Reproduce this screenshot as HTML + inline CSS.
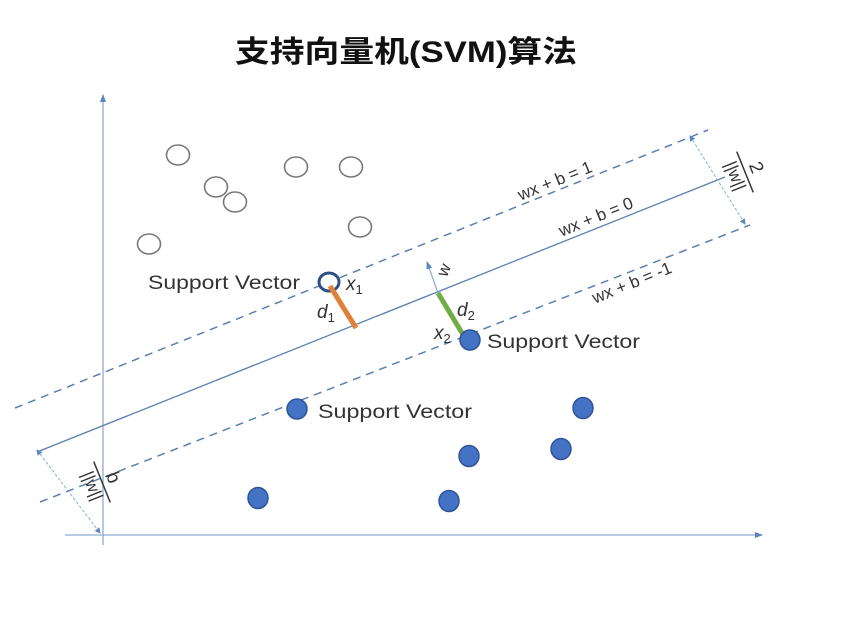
<!DOCTYPE html>
<html><head><meta charset="utf-8"><style>
body{margin:0;background:#fff;width:852px;height:627px;overflow:hidden}
svg text{font-family:"Liberation Sans","Noto Sans CJK SC",sans-serif}
</style></head><body>
<svg width="852" height="627" viewBox="0 0 852 627" xmlns="http://www.w3.org/2000/svg">
<defs>
<marker id="a" markerWidth="8" markerHeight="8" refX="7" refY="4" orient="auto" markerUnits="userSpaceOnUse"><path d="M0,1 L8,4 L0,7z" fill="#5b87c0"/></marker>
<marker id="s" markerWidth="6" markerHeight="6" refX="5" refY="3" orient="auto-start-reverse" markerUnits="userSpaceOnUse"><path d="M0,0 L6,3 L0,6z" fill="#5b87c0"/></marker>
</defs>
<text x="406" y="62" font-size="30" font-weight="bold" text-anchor="middle" fill="#111" textLength="342" lengthAdjust="spacingAndGlyphs">支持向量机(SVM)算法</text>
<!-- axes -->
<line x1="103" y1="545" x2="103" y2="95" stroke="#8eaad3" stroke-width="1.3" marker-end="url(#a)"/>
<line x1="65" y1="535" x2="762" y2="535" stroke="#8eaad3" stroke-width="1.3" marker-end="url(#a)"/>
<!-- lines -->
<line x1="15" y1="408" x2="708" y2="130" stroke="#5b7fb0" stroke-width="1.5" stroke-dasharray="8,6"/>
<line x1="37" y1="452" x2="725" y2="177" stroke="#5b7fb0" stroke-width="1.3"/>
<line x1="40" y1="502" x2="750" y2="225" stroke="#5b7fb0" stroke-width="1.5" stroke-dasharray="8,6"/>
<!-- dimension lines -->
<line x1="690" y1="136" x2="745" y2="224" stroke="#8eaad3" stroke-width="1" stroke-dasharray="3,2" marker-start="url(#s)" marker-end="url(#s)"/>
<line x1="37" y1="450" x2="100" y2="533" stroke="#8eaad3" stroke-width="1" stroke-dasharray="3,2" marker-start="url(#s)" marker-end="url(#s)"/>
<!-- labels on lines -->
<g font-size="17" fill="#333">
<text transform="translate(557,186) rotate(-22)" text-anchor="middle">wx + b = 1</text>
<text transform="translate(598,222) rotate(-22)" text-anchor="middle">wx + b = 0</text>
<text transform="translate(634,288) rotate(-22)" text-anchor="middle">wx + b = -1</text>
</g>
<!-- fractions -->
<g transform="translate(745,172) rotate(68)" fill="#333">
<text x="0" y="-6" font-size="19" text-anchor="middle">2</text>
<line x1="-22" y1="0" x2="22" y2="0" stroke="#333" stroke-width="1.5"/>
<text x="0" y="16" font-size="17" text-anchor="middle">||w||</text>
</g>
<g transform="translate(102,482) rotate(68)" fill="#333">
<text x="0" y="-6" font-size="19" text-anchor="middle">b</text>
<line x1="-22" y1="0" x2="22" y2="0" stroke="#333" stroke-width="1.5"/>
<text x="0" y="16" font-size="17" text-anchor="middle">||w||</text>
</g>
<!-- open circles -->
<g fill="#fff" stroke="#777" stroke-width="1.6">
<ellipse cx="178" cy="155" rx="11.5" ry="10"/>
<ellipse cx="216" cy="187" rx="11.5" ry="10"/>
<ellipse cx="235" cy="202" rx="11.5" ry="10"/>
<ellipse cx="296" cy="167" rx="11.5" ry="10"/>
<ellipse cx="351" cy="167" rx="11.5" ry="10"/>
<ellipse cx="360" cy="227" rx="11.5" ry="10"/>
<ellipse cx="149" cy="244" rx="11.5" ry="10"/>
</g>
<ellipse cx="329" cy="282" rx="10" ry="9" fill="#fff" stroke="#2d4f86" stroke-width="3"/>
<!-- segments -->
<line x1="330" y1="286" x2="356" y2="328" stroke="#e0803a" stroke-width="5"/>
<line x1="438" y1="293" x2="465" y2="338" stroke="#6fae45" stroke-width="5"/>
<line x1="438" y1="293" x2="427" y2="262" stroke="#8eaad3" stroke-width="1.2" marker-end="url(#a)"/>
<!-- filled circles -->
<g fill="#4472c4" stroke="#2f5597" stroke-width="1.5">
<ellipse cx="470" cy="340" rx="10" ry="10"/>
<ellipse cx="297" cy="409" rx="10" ry="10"/>
<ellipse cx="583" cy="408" rx="10" ry="10.5"/>
<ellipse cx="561" cy="449" rx="10" ry="10.5"/>
<ellipse cx="469" cy="456" rx="10" ry="10.5"/>
<ellipse cx="258" cy="498" rx="10" ry="10.5"/>
<ellipse cx="449" cy="501" rx="10" ry="10.5"/>
</g>
<!-- texts -->
<g font-size="19" fill="#333">
<text x="148" y="289" textLength="152" lengthAdjust="spacingAndGlyphs">Support Vector</text>
<text x="487" y="348" textLength="153" lengthAdjust="spacingAndGlyphs">Support Vector</text>
<text x="318" y="418" textLength="154" lengthAdjust="spacingAndGlyphs">Support Vector</text>
</g>
<g font-family="'Liberation Serif',serif" font-style="italic" fill="#333">
<text x="346" y="290" font-size="19">x<tspan font-size="13" dy="4" font-style="normal">1</tspan></text>
<text x="317" y="318" font-size="19">d<tspan font-size="13" dy="4" font-style="normal">1</tspan></text>
<text x="457" y="316" font-size="19">d<tspan font-size="13" dy="4" font-style="normal">2</tspan></text>
<text x="434" y="339" font-size="19">x<tspan font-size="13" dy="4" font-style="normal">2</tspan></text>
</g>
<text transform="translate(449,272) rotate(-68)" font-size="17" fill="#333" text-anchor="middle">w</text>
</svg>
</body></html>
